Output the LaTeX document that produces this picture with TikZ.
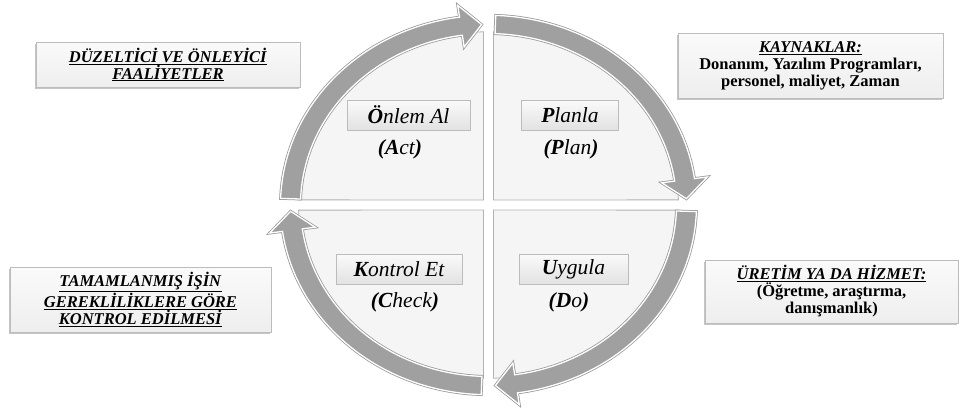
\documentclass[tikz,border=0pt]{standalone}
\usepackage{fontspec}
\setmainfont{Liberation Serif}
\usetikzlibrary{shadows}

\definecolor{ringfill}{RGB}{160,160,160}
\definecolor{ringedge}{RGB}{150,150,150}
\definecolor{quadfill}{RGB}{245,245,245}
\definecolor{quadedge}{RGB}{178,178,178}
\definecolor{boxedge}{RGB}{188,188,188}
\definecolor{boxtop}{RGB}{250,250,250}
\definecolor{boxbottom}{RGB}{238,238,238}
\definecolor{tagtop}{RGB}{250,250,250}
\definecolor{tagbottom}{RGB}{226,226,226}

% curved band arrow on the ring, running clockwise from angle #1 to its tip at angle #2
\newcommand\ringpath[2]{(#1:208) arc[start angle=#1, end angle={#2+6}, radius=208]
    -- ({#2+6}:221) -- (#2:198) -- ({#2+6}:175) -- ({#2+6}:188)
    arc[start angle={#2+6}, end angle=#1, radius=188] -- cycle}
\newcommand\ringarrow[2]{%
  \path[draw=ringedge, line width=2.8pt, line join=miter] \ringpath{#1}{#2};
  \path[fill=ringfill, draw=white, line width=1.3pt, line join=miter] \ringpath{#1}{#2};}

\tikzset{
  quadrant/.style={fill=quadfill, draw=quadedge, line width=0.8pt},
  tagbox/.style={draw=boxedge, line width=0.8pt, top color=tagtop, bottom color=tagbottom,
    minimum height=30pt, inner sep=0pt, font=\fontsize{21.5}{23}\selectfont\itshape,
    drop shadow={shadow xshift=0.8pt, shadow yshift=-1pt, opacity=0.3}},
  subtag/.style={font=\fontsize{21.5}{23}\selectfont\itshape, inner sep=0pt},
  sidebox/.style={draw=boxedge, line width=0.8pt, top color=boxtop, bottom color=boxbottom,
    align=center, inner sep=2pt, font=\fontsize{16.5}{17}\selectfont\bfseries,
    drop shadow={shadow xshift=-1.5pt, shadow yshift=-1.5pt, fill=gray, opacity=0.45}}
}

\begin{document}
\begin{tikzpicture}[x=1pt, y=-1pt]
\useasboundingbox (0,0) rectangle (961,407);
\fill[white] (0,0) rectangle (961,407);

% ring: four quadrants and four arrows
\begin{scope}[shift={(488.5,205)}, yscale=-0.912]
  \path[quadrant] (-5,5.5) -- (178.3:190) arc[start angle=178.3, end angle=91.5, radius=190] -- cycle;
  \path[quadrant] (5,5.5) -- (88.5:190) arc[start angle=88.5, end angle=1.7, radius=190] -- cycle;
  \path[quadrant] (5,-5.5) -- (-1.7:190) arc[start angle=-1.7, end angle=-88.5, radius=190] -- cycle;
  \path[quadrant] (-5,-5.5) -- (-91.5:190) arc[start angle=-91.5, end angle=-178.3, radius=190] -- cycle;
  \ringarrow{178}{92}
  \ringarrow{88}{2}
  \ringarrow{-2}{-88}
  \ringarrow{-92}{-178}
\end{scope}

% stage labels
\node[tagbox, minimum width=123pt] (act) at (408.5,115) {\textbf{Ö}nlem Al};
\node[tagbox, minimum width=97pt] (plan) at (570,115) {\textbf{P}lanla};
\node[tagbox, minimum width=126pt] (check) at (399,269) {\textbf{K}ontrol Et};
\node[tagbox, minimum width=109pt] (do) at (573.5,269) {\textbf{U}ygula};
\node[subtag] (acten) at (400,149) {\textbf{(A}ct\textbf{)}};
\node[subtag] (planen) at (571,149) {\textbf{(P}lan\textbf{)}};
\node[subtag] (checken) at (405,302) {\textbf{(C}heck\textbf{)}};
\node[subtag] (doen) at (569,302) {\textbf{(D}o\textbf{)}};

% side notes
\node[sidebox, minimum width=264pt, minimum height=45pt] (fix) at (168,64.5)
  {\underline{\textit{DÜZELTİCİ VE ÖNLEYİCİ}}\\\underline{\textit{FAALİYETLER}}};
\node[sidebox, minimum width=265pt, minimum height=65pt] (res) at (810.5,65.5)
  {\underline{\textit{KAYNAKLAR:}}\\Donanım, Yazılım Programları,\\personel, maliyet, Zaman};
\node[sidebox, minimum width=261pt, minimum height=65pt] (ctl) at (140.5,299.5)
  {\underline{\textit{TAMAMLANMIŞ İŞİN}}\\\underline{\textit{GEREKLİLİKLERE GÖRE}}\\\underline{\textit{KONTROL EDİLMESİ}}};
\node[sidebox, minimum width=253pt, minimum height=63pt] (prod) at (831.5,291.5)
  {\underline{\textit{ÜRETİM YA DA HİZMET:}}\\(Öğretme, araştırma,\\danışmanlık)};
\end{tikzpicture}
\end{document}
